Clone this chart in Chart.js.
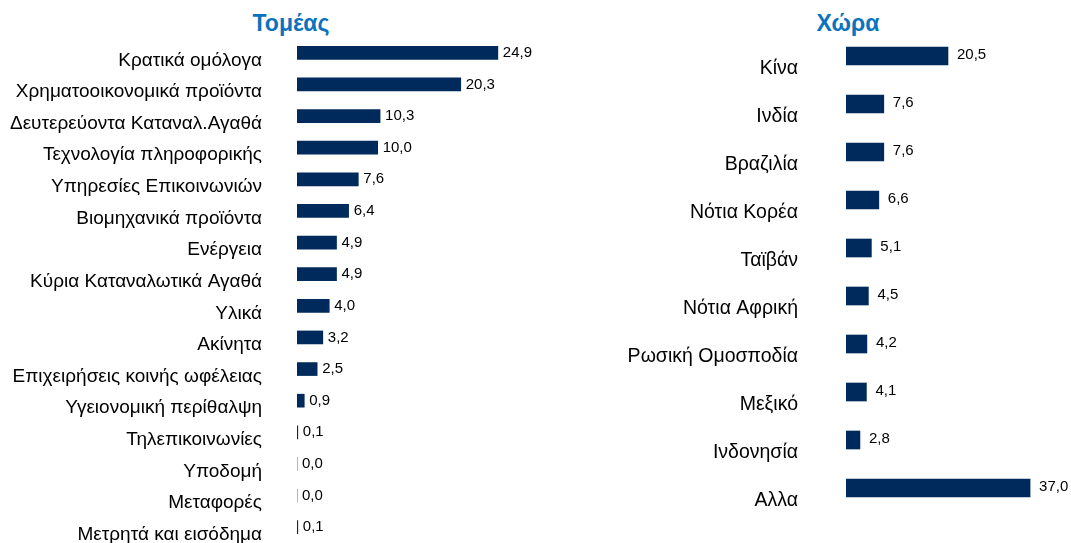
<!DOCTYPE html>
<html lang="el">
<head>
<meta charset="UTF-8">
<title>Τομέας / Χώρα</title>
<script src="https://cdn.jsdelivr.net/npm/chart.js@4.4.1/dist/chart.umd.min.js"></script>
<style>
  body { margin: 0; background: #fff; width: 1071px; height: 543px; overflow: hidden; position: relative; font-family: "Liberation Sans", Arial, sans-serif; }
  .box { position: absolute; top: 0; height: 543px; }
  #leftBox { left: 0; width: 564px; }
  #rightBox { left: 613px; width: 458px; }
  .title { position: absolute; top: 7px; font-weight: bold; font-size: 23px; color: #0b72bd; transform: translateX(-50%); white-space: nowrap; line-height: 32px; }
</style>
</head>
<body>
  <div class="title" style="left:291px">Τομέας</div>
  <div class="title" style="left:848px">Χώρα</div>
  <div class="box" id="leftBox"><canvas id="sectorChart"></canvas></div>
  <div class="box" id="rightBox"><canvas id="countryChart"></canvas></div>
<script>
  const sectors = ['Κρατικά ομόλογα', 'Χρηματοοικονομικά προϊόντα', 'Δευτερεύοντα Καταναλ.Αγαθά',
    'Τεχνολογία πληροφορικής', 'Υπηρεσίες Επικοινωνιών', 'Βιομηχανικά προϊόντα', 'Ενέργεια',
    'Κύρια Καταναλωτικά Αγαθά', 'Υλικά', 'Ακίνητα', 'Επιχειρήσεις κοινής ωφέλειας',
    'Υγειονομική περίθαλψη', 'Τηλεπικοινωνίες', 'Υποδομή', 'Μεταφορές', 'Μετρητά και εισόδημα'];
  const sectorValues = [24.9, 20.3, 10.3, 10.0, 7.6, 6.4, 4.9, 4.9, 4.0, 3.2, 2.5, 0.9, 0.1, 0.0, 0.0, 0.1];

  const countries = ['Κίνα', 'Ινδία', 'Βραζιλία', 'Νότια Κορέα', 'Ταϊβάν', 'Νότια Αφρική',
    'Ρωσική Ομοσποδία', 'Μεξικό', 'Ινδονησία', 'Αλλα'];
  const countryValues = [20.5, 7.6, 7.6, 6.6, 5.1, 4.5, 4.2, 4.1, 2.8, 37.0];

  const barColor = '#002a5c';

  // writes the value next to the end of each bar
  const valueLabels = {
    id: 'valueLabels',
    afterDatasetsDraw(chart, args, opts) {
      const ctx = chart.ctx;
      const meta = chart.getDatasetMeta(0);
      const data = chart.data.datasets[0].data;
      ctx.save();
      ctx.font = '15px "Liberation Sans", Arial, sans-serif';
      ctx.fillStyle = '#000';
      ctx.textAlign = 'left';
      ctx.textBaseline = 'middle';
      meta.data.forEach((bar, i) => {
        const txt = data[i].toFixed(1).replace('.', ',');
        ctx.fillText(txt, bar.x + opts.dx, bar.y + opts.dy);
      });
      ctx.restore();
    }
  };

  function makeChart(id, labels, values, cfg) {
    return new Chart(document.getElementById(id), {
      type: 'bar',
      data: {
        labels: labels,
        datasets: [{ data: values, backgroundColor: barColor, barThickness: cfg.thickness }]
      },
      options: {
        indexAxis: 'y',
        responsive: true,
        maintainAspectRatio: false,
        animation: false,
        layout: { padding: cfg.padding },
        plugins: {
          legend: { display: false },
          tooltip: { enabled: false },
          valueLabels: { dx: cfg.dx, dy: cfg.dy }
        },
        scales: {
          x: { display: false, min: 0, max: cfg.max },
          y: {
            grid: { display: false, drawTicks: false },
            border: { display: false },
            // fixed axis width, and no extra room for the edge labels
            afterFit: s => { s.width = cfg.axisWidth; s.paddingTop = 0; s.paddingBottom = 0; },
            ticks: {
              color: '#000',
              padding: cfg.tickPad,
              labelOffset: cfg.labelOffset,
              autoSkip: false,
              font: { family: '"Liberation Sans", Arial, sans-serif', size: cfg.fontSize }
            }
          }
        }
      },
      plugins: [valueLabels]
    });
  }

  makeChart('sectorChart', sectors, sectorValues, {
    thickness: 13, max: 30, axisWidth: 297, tickPad: 35, labelOffset: 7.5, fontSize: 19,
    padding: { top: 37, bottom: 0, left: 0, right: 25 }, dx: 5, dy: 0
  });

  makeChart('countryChart', countries, countryValues, {
    thickness: 18, max: 40, axisWidth: 233, tickPad: 48, labelOffset: 12.5, fontSize: 19.5,
    padding: { top: 32, bottom: 31, left: 0, right: 26 }, dx: 9, dy: -1
  });
</script>
</body>
</html>
